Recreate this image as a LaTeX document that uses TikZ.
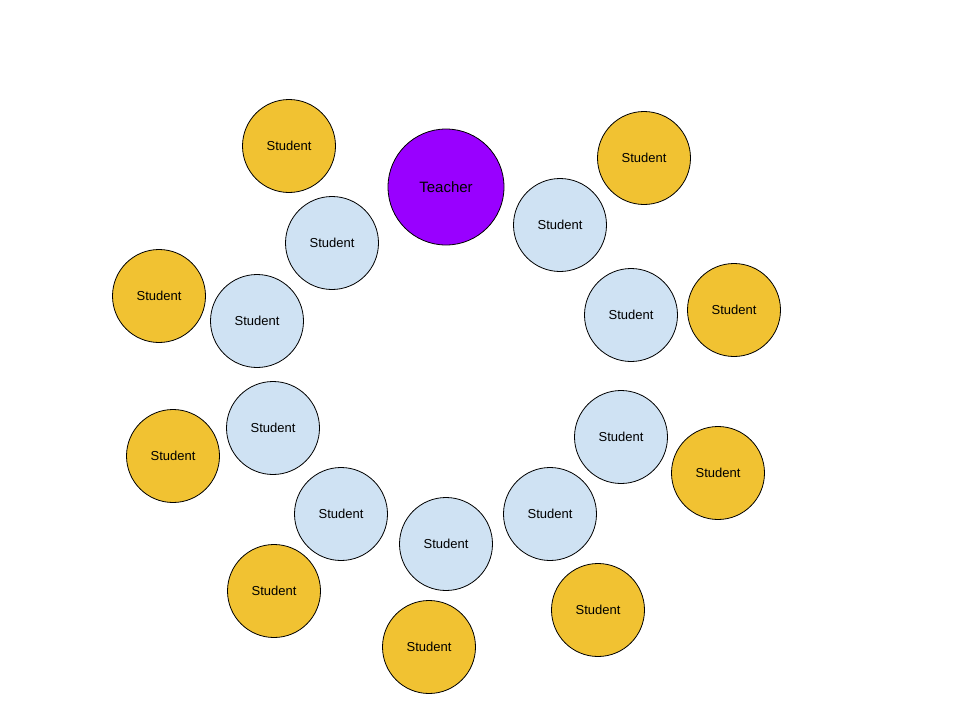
\documentclass[tikz,border=0pt]{standalone}
\usepackage{fontspec}
\setmainfont{Liberation Sans}
\definecolor{teachc}{HTML}{9900FF}
\definecolor{bluec}{HTML}{CFE2F3}
\definecolor{yelc}{HTML}{F1C232}
\begin{document}
\begin{tikzpicture}[x=1pt,y=-1pt,
  base/.style={circle,draw=black,line width=0.8pt,inner sep=0pt,text=black,text depth=0pt},
  teacher/.style={base,fill=teachc,minimum size=116pt,font=\fontsize{15}{15}\selectfont},
  inner/.style={base,fill=bluec,minimum size=93pt,font=\fontsize{13}{13}\selectfont},
  outer/.style={base,fill=yelc,minimum size=93pt,font=\fontsize{13}{13}\selectfont}]
\useasboundingbox (0,0) rectangle (960,720);
\node[teacher] (t) at (446,187) {Teacher};
\node[outer] (y1) at (289,146) {Student};
\node[outer] (y2) at (644,158) {Student};
\node[outer] (y3) at (159,296) {Student};
\node[outer] (y4) at (734,310) {Student};
\node[outer] (y5) at (173,456) {Student};
\node[outer] (y6) at (718,473) {Student};
\node[outer] (y7) at (274,591) {Student};
\node[outer] (y8) at (598,610) {Student};
\node[outer] (y9) at (429,647) {Student};
\node[inner] (b1) at (332,243) {Student};
\node[inner] (b2) at (560,225) {Student};
\node[inner] (b3) at (257,321) {Student};
\node[inner] (b4) at (631,315) {Student};
\node[inner] (b5) at (273,428) {Student};
\node[inner] (b6) at (621,437) {Student};
\node[inner] (b7) at (341,514) {Student};
\node[inner] (b8) at (550,514) {Student};
\node[inner] (b9) at (446,544) {Student};
\end{tikzpicture}
\end{document}
